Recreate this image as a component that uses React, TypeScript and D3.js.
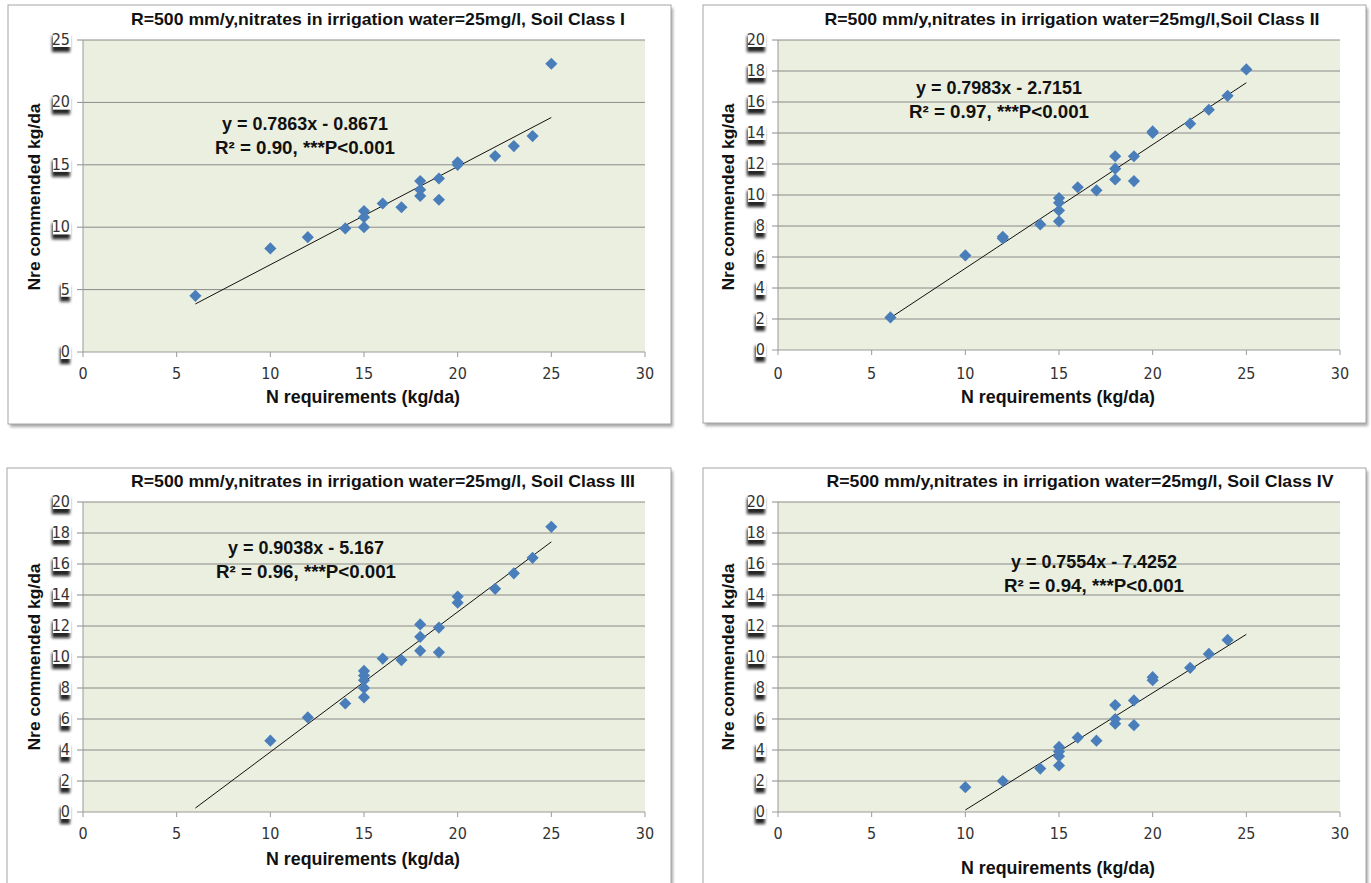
import React from "react";
import * as d3 from "d3";

// ---- data ----
const xTicks = [0, 5, 10, 15, 20, 25, 30];

const titles = [
  "R=500 mm/y,nitrates in irrigation water=25mg/l, Soil Class I",
  "R=500 mm/y,nitrates in irrigation water=25mg/l,Soil Class II",
  "R=500 mm/y,nitrates in irrigation water=25mg/l, Soil Class III",
  "R=500 mm/y,nitrates in irrigation water=25mg/l, Soil Class IV",
];

const class1X = [6, 10, 12, 14, 15, 15, 15, 16, 17, 18, 18, 18, 19, 19, 20, 20, 22, 23, 24, 25];
const class1Y = [4.5, 8.3, 9.2, 9.9, 11.3, 10.8, 10.0, 11.9, 11.6, 13.7, 13.0, 12.5, 13.9, 12.2, 15.2, 15.0, 15.7, 16.5, 17.3, 23.1];

const class2X = [6, 10, 12, 12, 14, 15, 15, 15, 15, 16, 17, 18, 18, 18, 19, 19, 20, 20, 22, 23, 24, 25];
const class2Y = [2.1, 6.1, 7.3, 7.2, 8.1, 9.8, 9.5, 9.0, 8.3, 10.5, 10.3, 12.5, 11.7, 11.0, 12.5, 10.9, 14.1, 14.0, 14.6, 15.5, 16.4, 18.1];

const class3X = [10, 12, 14, 15, 15, 15, 15, 15, 16, 17, 18, 18, 18, 19, 19, 20, 20, 22, 23, 24, 25];
const class3Y = [4.6, 6.1, 7.0, 9.1, 8.8, 8.5, 8.0, 7.4, 9.9, 9.8, 12.1, 11.3, 10.4, 11.9, 10.3, 13.9, 13.5, 14.4, 15.4, 16.4, 18.4];

const class4X = [10, 12, 14, 15, 15, 15, 15, 16, 17, 18, 18, 18, 19, 19, 20, 20, 22, 23, 24];
const class4Y = [1.6, 2.0, 2.8, 4.2, 3.9, 3.6, 3.0, 4.8, 4.6, 6.9, 6.0, 5.7, 7.2, 5.6, 8.7, 8.5, 9.3, 10.2, 11.1];

const fitSlopes = [0.7863, 0.7983, 0.9038, 0.7554];
const fitIntercepts = [-0.8671, -2.7151, -5.167, -7.4252];
const fitFrom = [6, 6, 6, 10];
const fitTo = [25, 25, 25, 25];

const equations = [
  "y = 0.7863x - 0.8671",
  "y = 0.7983x - 2.7151",
  "y = 0.9038x - 5.167",
  "y = 0.7554x - 7.4252",
];
const r2Labels = [
  "R² = 0.90, ***P<0.001",
  "R² = 0.97, ***P<0.001",
  "R² = 0.96, ***P<0.001",
  "R² = 0.94, ***P<0.001",
];

const yMaxes = [25, 20, 20, 20];
const ySteps = [5, 2, 2, 2];

const xTitle = "N requirements (kg/da)";
const yTitle = "Nre commended kg/da";

// ---- layout ----
const layouts = [
  { fx: 8, fy: 5, fw: 663, fh: 419, l: 83, r: 645, t: 40, b: 352, titleX: 378, titleY: 25, titleW: 494, eqX: 305, eqY: 130, eqW: 166, xtY: 403, ytX: 40, ytY: 197, tickY: 379 },
  { fx: 703, fy: 5, fw: 663, fh: 418, l: 778, r: 1340, t: 40, b: 350, titleX: 1072, titleY: 25, titleW: 495, eqX: 999, eqY: 94, eqW: 166, xtY: 403, ytX: 734, ytY: 197, tickY: 379 },
  { fx: 7, fy: 468, fw: 664, fh: 430, l: 83, r: 645, t: 502, b: 812, titleX: 383, titleY: 487, titleW: 504, eqX: 306, eqY: 554, eqW: 156, xtY: 865, ytX: 40, ytY: 657, tickY: 839 },
  { fx: 703, fy: 468, fw: 663, fh: 430, l: 778, r: 1340, t: 502, b: 812, titleX: 1080, titleY: 487, titleW: 507, eqX: 1094, eqY: 568, eqW: 166, xtY: 874, ytX: 734, ytY: 657, tickY: 839 },
];

const seriesX = [class1X, class2X, class3X, class4X];
const seriesY = [class1Y, class2Y, class3Y, class4Y];

const narrow = "'Liberation Sans Narrow', 'Arial Narrow', 'DejaVu Sans Condensed', sans-serif";
const wide = "'Liberation Sans', Arial, sans-serif";
const marker = d3.symbol(d3.symbolSquare, 74)();

function Panel({ i }: { i: number }) {
  const L = layouts[i];
  const x = d3.scaleLinear().domain([0, 30]).range([L.l, L.r]);
  const y = d3.scaleLinear().domain([0, yMaxes[i]]).range([L.b, L.t]);
  const yTicks = d3.range(0, yMaxes[i] + 0.001, ySteps[i]);
  const line = d3
    .line<number>()
    .x((v) => x(v))
    .y((v) => y(fitSlopes[i] * v + fitIntercepts[i]));
  const pts = seriesX[i].map((v, k) => [v, seriesY[i][k]]);

  return (
    <g>
      {/* frame with shadow */}
      <rect x={L.fx + 2} y={L.fy + 3} width={L.fw} height={L.fh} fill="#a8a8a8" filter="url(#frameBlur)" />
      <rect x={L.fx} y={L.fy} width={L.fw} height={L.fh} fill="#ffffff" stroke="#a6a6a6" strokeWidth={1} />
      <text x={L.titleX} y={L.titleY} textAnchor="middle" fontFamily={wide} fontWeight="bold" fontSize={17}
        fill="#111" textLength={L.titleW} lengthAdjust="spacingAndGlyphs">{titles[i]}</text>

      {/* plot area */}
      <rect x={L.l} y={L.t} width={L.r - L.l} height={L.b - L.t} fill="#ebefdf" />
      {yTicks.map((t) => (
        <line key={"g" + t} x1={L.l - 6} x2={L.r} y1={y(t)} y2={y(t)}
          stroke={t === 0 ? "#9a9a9a" : "#8a8a8a"} strokeWidth={1} />
      ))}
      <line x1={L.l} x2={L.l} y1={L.t} y2={L.b} stroke="#9a9a9a" />
      {xTicks.map((t) => (
        <line key={"xt" + t} x1={x(t)} x2={x(t)} y1={L.b} y2={L.b + 5} stroke="#9a9a9a" />
      ))}

      {/* y tick labels with the boxed look */}
      {yTicks.map((t) => {
        const w = String(t).length * 8 + 2;
        return (
          <g key={"yl" + t}>
            <rect x={L.l - 12 - w} y={y(t) - 9} width={w} height={16} fill="#fff" filter="url(#lblShadow)" />
            <text x={L.l - 13} y={y(t) + 5} textAnchor="end" fontFamily={narrow} fontSize={16} fill="#333">{t}</text>
          </g>
        );
      })}
      {xTicks.map((t) => (
        <text key={"xl" + t} x={x(t)} y={L.tickY} textAnchor="middle" fontFamily={narrow} fontSize={16} fill="#333">{t}</text>
      ))}

      {/* trend line */}
      <path d={line([fitFrom[i], fitTo[i]]) || ""} stroke="#111" strokeWidth={1} fill="none" />

      {/* points */}
      {pts.map((p, k) => (
        <path key={"p" + k} d={marker || ""} transform={`translate(${x(p[0])},${y(p[1])}) rotate(45)`} fill="#4a7ebb" />
      ))}

      {/* annotation */}
      <text x={L.eqX} y={L.eqY} textAnchor="middle" fontFamily={wide} fontWeight="bold" fontSize={18} fill="#111"
        textLength={L.eqW} lengthAdjust="spacingAndGlyphs">{equations[i]}</text>
      <text x={L.eqX} y={L.eqY + 24} textAnchor="middle" fontFamily={wide} fontWeight="bold" fontSize={18} fill="#111"
        textLength={180} lengthAdjust="spacingAndGlyphs">{r2Labels[i]}</text>

      {/* axis titles */}
      <text x={(L.l + L.r) / 2 - 1} y={L.xtY} textAnchor="middle" fontFamily={wide} fontWeight="bold" fontSize={18}
        fill="#111" textLength={194} lengthAdjust="spacingAndGlyphs">{xTitle}</text>
      <text transform={`translate(${L.ytX},${L.ytY}) rotate(-90)`} textAnchor="middle" fontFamily={wide} fontWeight="bold"
        fontSize={17} fill="#111" textLength={187} lengthAdjust="spacingAndGlyphs">{yTitle}</text>
    </g>
  );
}

export default function App() {
  return (
    <svg width={1371} height={883} style={{ position: "absolute", left: 0, top: 0, background: "#fff" }}>
      <defs>
        <filter id="lblShadow" x="-80%" y="-60%" width="260%" height="280%">
          <feDropShadow dx={-1} dy={5} stdDeviation={1.8} floodColor="#111" floodOpacity={0.9} />
        </filter>
        <filter id="frameBlur" x="-5%" y="-5%" width="110%" height="110%">
          <feGaussianBlur stdDeviation={1.5} />
        </filter>
      </defs>
      {layouts.map((_, i) => (
        <Panel key={i} i={i} />
      ))}
    </svg>
  );
}
